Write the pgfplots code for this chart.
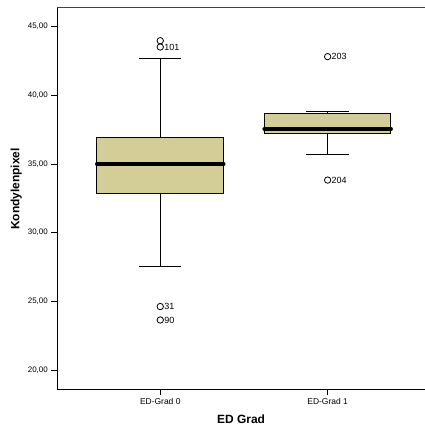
\documentclass[border=0pt]{standalone}
\usepackage{fontspec}
\setmainfont{Liberation Sans}
\usepackage{pgfplots}
\pgfplotsset{compat=1.18}
\usepgfplotslibrary{statistics}
\usetikzlibrary{calc}
\definecolor{boxfill}{RGB}{211,206,151}
\begin{document}
\begin{tikzpicture}
\begin{axis}[
  scale only axis, width=367.6bp, height=381bp,
  xmin=-0.615, xmax=1.581, ymin=18.616, ymax=46.362,
  axis x line*=bottom, axis y line*=left,
  axis line style={line width=1bp, black, -},
  xtick={0,1}, xticklabels={ED-Grad 0, ED-Grad 1},
  ytick={20,25,...,45},
  /pgf/number format/assume math mode=true,
  /pgf/number format/fixed, /pgf/number format/fixed zerofill,
  /pgf/number format/precision=2, /pgf/number format/use comma,
  tick align=outside, major tick length=6bp,
  tick style={black, line width=0.8bp},
  x tick label style={font=\fontsize{8.5}{10}\selectfont},
  y tick label style={font=\fontsize{8}{10}\selectfont},
  xlabel={ED Grad}, ylabel={Kondylenpixel},
  every axis y label/.style={at={(axis description cs:-0.1115,0.525)}, anchor=center, rotate=90, font=\bfseries\fontsize{12}{14}\selectfont},
  every axis x label/.style={at={(axis description cs:0.5,-0.0787)}, anchor=center, font=\bfseries\fontsize{12}{14}\selectfont},
  clip=false,
  boxplot/draw direction=y,
  boxplot/every median/.style={line width=4bp, line cap=round, draw=black},
]
\coordinate (bl) at (rel axis cs:0,0);
\draw[line width=1bp, black!75] (rel axis cs:0,1) -- (rel axis cs:1,1);
\addplot[boxplot prepared={draw position=0, lower whisker=27.52, lower quartile=32.87, median=35.0, upper quartile=36.92, upper whisker=42.67, box extend=0.756, whisker extend=0.253}, draw=black, fill=boxfill, line width=1bp, solid] coordinates {};
\addplot[boxplot prepared={draw position=1, lower whisker=35.70, lower quartile=37.23, median=37.55, upper quartile=38.66, upper whisker=38.84, box extend=0.756, whisker extend=0.253}, draw=black, fill=boxfill, line width=1bp, solid] coordinates {};
\addplot[only marks, mark=o, mark size=3.2bp, mark options={line width=0.8bp, draw=black}] coordinates {(0,43.98)};
\addplot[only marks, mark=o, mark size=3.2bp, mark options={line width=0.8bp, draw=black},
  nodes near coords, point meta=explicit symbolic,
  nodes near coords style={anchor=west, xshift=3.2bp, inner sep=0.5bp, font=\fontsize{9}{10}\selectfont, black}]
  table[meta=lab] {
x y lab
0 43.52 101
0 24.62 31
0 23.64 90
1 42.82 203
1 33.83 204
};
\end{axis}
\pgfresetboundingbox
\path[use as bounding box] ($(bl)+(-57.3bp,-37bp)$) rectangle ($(bl)+(367.6bp,389bp)$);
\end{tikzpicture}
\end{document}
